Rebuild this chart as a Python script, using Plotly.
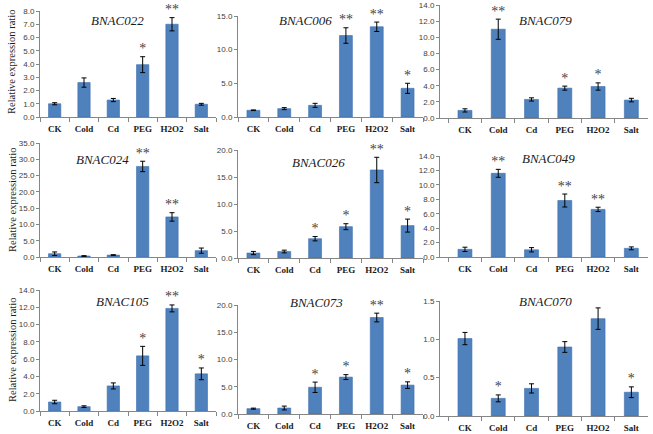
import plotly.graph_objects as go

W, H = 653, 434

categories = ["CK", "Cold", "Cd", "PEG", "H2O2", "Salt"]
genes = ["BNAC022", "BNAC006", "BNAC079",
         "BNAC024", "BNAC026", "BNAC049",
         "BNAC105", "BNAC073", "BNAC070"]

values_BNAC022 = [1.0, 2.6, 1.28, 3.95, 7.0, 0.96]
errors_BNAC022 = [0.08, 0.35, 0.12, 0.6, 0.5, 0.07]
stars_BNAC022 = ["", "", "", "*", "**", ""]

values_BNAC006 = [1.0, 1.24, 1.73, 12.1, 13.4, 4.26]
errors_BNAC006 = [0.05, 0.15, 0.3, 1.15, 0.7, 0.75]
stars_BNAC006 = ["", "", "", "**", "**", "*"]

values_BNAC079 = [0.94, 11.0, 2.3, 3.7, 3.9, 2.22]
errors_BNAC079 = [0.2, 1.25, 0.2, 0.25, 0.45, 0.22]
stars_BNAC079 = ["", "**", "", "*", "*", ""]

values_BNAC024 = [1.0, 0.3, 0.6, 27.8, 12.3, 1.95]
errors_BNAC024 = [0.55, 0.1, 0.1, 1.6, 1.3, 0.8]
stars_BNAC024 = ["", "", "", "**", "**", ""]

values_BNAC026 = [0.92, 1.2, 3.57, 5.8, 16.3, 6.0]
errors_BNAC026 = [0.3, 0.25, 0.4, 0.55, 2.35, 1.2]
stars_BNAC026 = ["", "", "*", "*", "**", "*"]

values_BNAC049 = [1.06, 11.6, 1.0, 7.83, 6.6, 1.2]
errors_BNAC049 = [0.3, 0.55, 0.3, 0.9, 0.3, 0.2]
stars_BNAC049 = ["", "**", "", "**", "**", ""]

values_BNAC105 = [1.04, 0.5, 2.9, 6.38, 11.87, 4.3]
errors_BNAC105 = [0.2, 0.1, 0.35, 1.1, 0.4, 0.68]
stars_BNAC105 = ["", "", "", "*", "**", "*"]

values_BNAC073 = [0.98, 1.1, 4.9, 6.77, 17.7, 5.3]
errors_BNAC073 = [0.1, 0.35, 0.95, 0.45, 0.8, 0.6]
stars_BNAC073 = ["", "", "*", "*", "**", "*"]

values_BNAC070 = [1.01, 0.23, 0.36, 0.9, 1.27, 0.31]
errors_BNAC070 = [0.08, 0.045, 0.06, 0.07, 0.14, 0.07]
stars_BNAC070 = ["", "*", "", "", "", "*"]

y_max = [8.0, 15.0, 14.0, 35.0, 20.0, 14.0, 14.0, 20.0, 1.5]
y_dtick = [1.0, 5.0, 2.0, 5.0, 5.0, 2.0, 2.0, 5.0, 0.5]

values = [values_BNAC022, values_BNAC006, values_BNAC079,
          values_BNAC024, values_BNAC026, values_BNAC049,
          values_BNAC105, values_BNAC073, values_BNAC070]
errors = [errors_BNAC022, errors_BNAC006, errors_BNAC079,
          errors_BNAC024, errors_BNAC026, errors_BNAC049,
          errors_BNAC105, errors_BNAC073, errors_BNAC070]
stars = [stars_BNAC022, stars_BNAC006, stars_BNAC079,
         stars_BNAC024, stars_BNAC026, stars_BNAC049,
         stars_BNAC105, stars_BNAC073, stars_BNAC070]

# panel geometry in pixels: (x_left, x_right, y_top, y_zero, x_range_start)
geom = [(40, 216, 11, 117, -0.5), (238, 423, 16, 117, -0.5), (440, 648, 5, 118, -0.75),
        (40, 216, 143, 257, -0.5), (238, 423, 150, 258, -0.5), (440, 648, 156, 257, -0.75),
        (40, 216, 290, 411, -0.5), (238, 423, 305, 414, -0.5), (440, 648, 301, 416, -0.75)]
title_pos = [(117, 20), (305, 20), (545, 20),
             (102, 160), (318, 162), (548, 158),
             (122, 301), (316, 302), (545, 301)]
ylabel_rows = [62, 200, 350]

BAR = "#4F81BD"
AXC = "#868686"
SERIF = "Liberation Serif, Times New Roman, serif"
SANS = "Liberation Sans, Arial, sans-serif"

fig = go.Figure()
layout = dict(template="none", width=W, height=H,
              margin=dict(l=0, r=0, t=0, b=0, pad=0),
              paper_bgcolor="white", plot_bgcolor="white",
              showlegend=False, bargap=0.58)
annotations = []

for i in range(9):
    n = "" if i == 0 else str(i + 1)
    xl, xr, yt, y0, xs = geom[i]
    fig.add_trace(go.Bar(
        x=categories, y=values[i], xaxis="x" + n, yaxis="y" + n,
        marker=dict(color=BAR, line=dict(color="#3C6FAE", width=0.6)),
        error_y=dict(type="data", array=errors[i], color="black",
                     thickness=1, width=2.5),
        hoverinfo="skip"))
    tops = [v + e for v, e in zip(values[i], errors[i])]
    fig.add_trace(go.Scatter(
        x=categories, y=tops, xaxis="x" + n, yaxis="y" + n,
        mode="text", text=stars[i], textposition="top center",
        textfont=dict(family=SERIF, size=14, color="#444444"),
        cliponaxis=False, hoverinfo="skip"))
    layout["xaxis" + n] = dict(
        domain=[xl / W, xr / W], anchor="y" + n, type="category",
        range=[xs, 5.5], showline=True, linecolor=AXC, linewidth=1,
        ticks="outside", tickson="boundaries", ticklen=4, tickcolor=AXC,
        showgrid=False, zeroline=False, automargin=False, tickangle=0,
        ticklabelstandoff=3,
        tickfont=dict(family=SERIF, size=9, color="#1a1a1a"),
        tickprefix="<b>", ticksuffix="</b>")
    layout["yaxis" + n] = dict(
        domain=[1 - y0 / H, 1 - yt / H], anchor="x" + n,
        range=[0, y_max[i]], dtick=y_dtick[i], tickformat=".1f",
        showline=True, linecolor=AXC, linewidth=1,
        ticks="outside", ticklen=3, tickcolor=AXC,
        showgrid=False, zeroline=False, automargin=False,
        ticklabeloverflow="allow",
        tickfont=dict(family=SANS, size=8, color="#404040"))
    tx, ty = title_pos[i]
    annotations.append(dict(
        text="<i>" + genes[i] + "</i>", x=tx / W, y=1 - ty / H,
        xref="paper", yref="paper", showarrow=False,
        xanchor="center", yanchor="middle",
        font=dict(family=SERIF, size=13, color="#1a1a1a")))

for yc in ylabel_rows:
    annotations.append(dict(
        text="Relative expression ratio", x=12 / W, y=1 - yc / H,
        xref="paper", yref="paper", showarrow=False, textangle=-90,
        xanchor="center", yanchor="middle",
        font=dict(family=SERIF, size=10.5, color="#1a1a1a")))

layout["annotations"] = annotations
fig.update_layout(**layout)
fig.write_html("out.html", config={"displayModeBar": False},
               post_script="document.body.style.margin='0';document.body.style.overflow='hidden';")
